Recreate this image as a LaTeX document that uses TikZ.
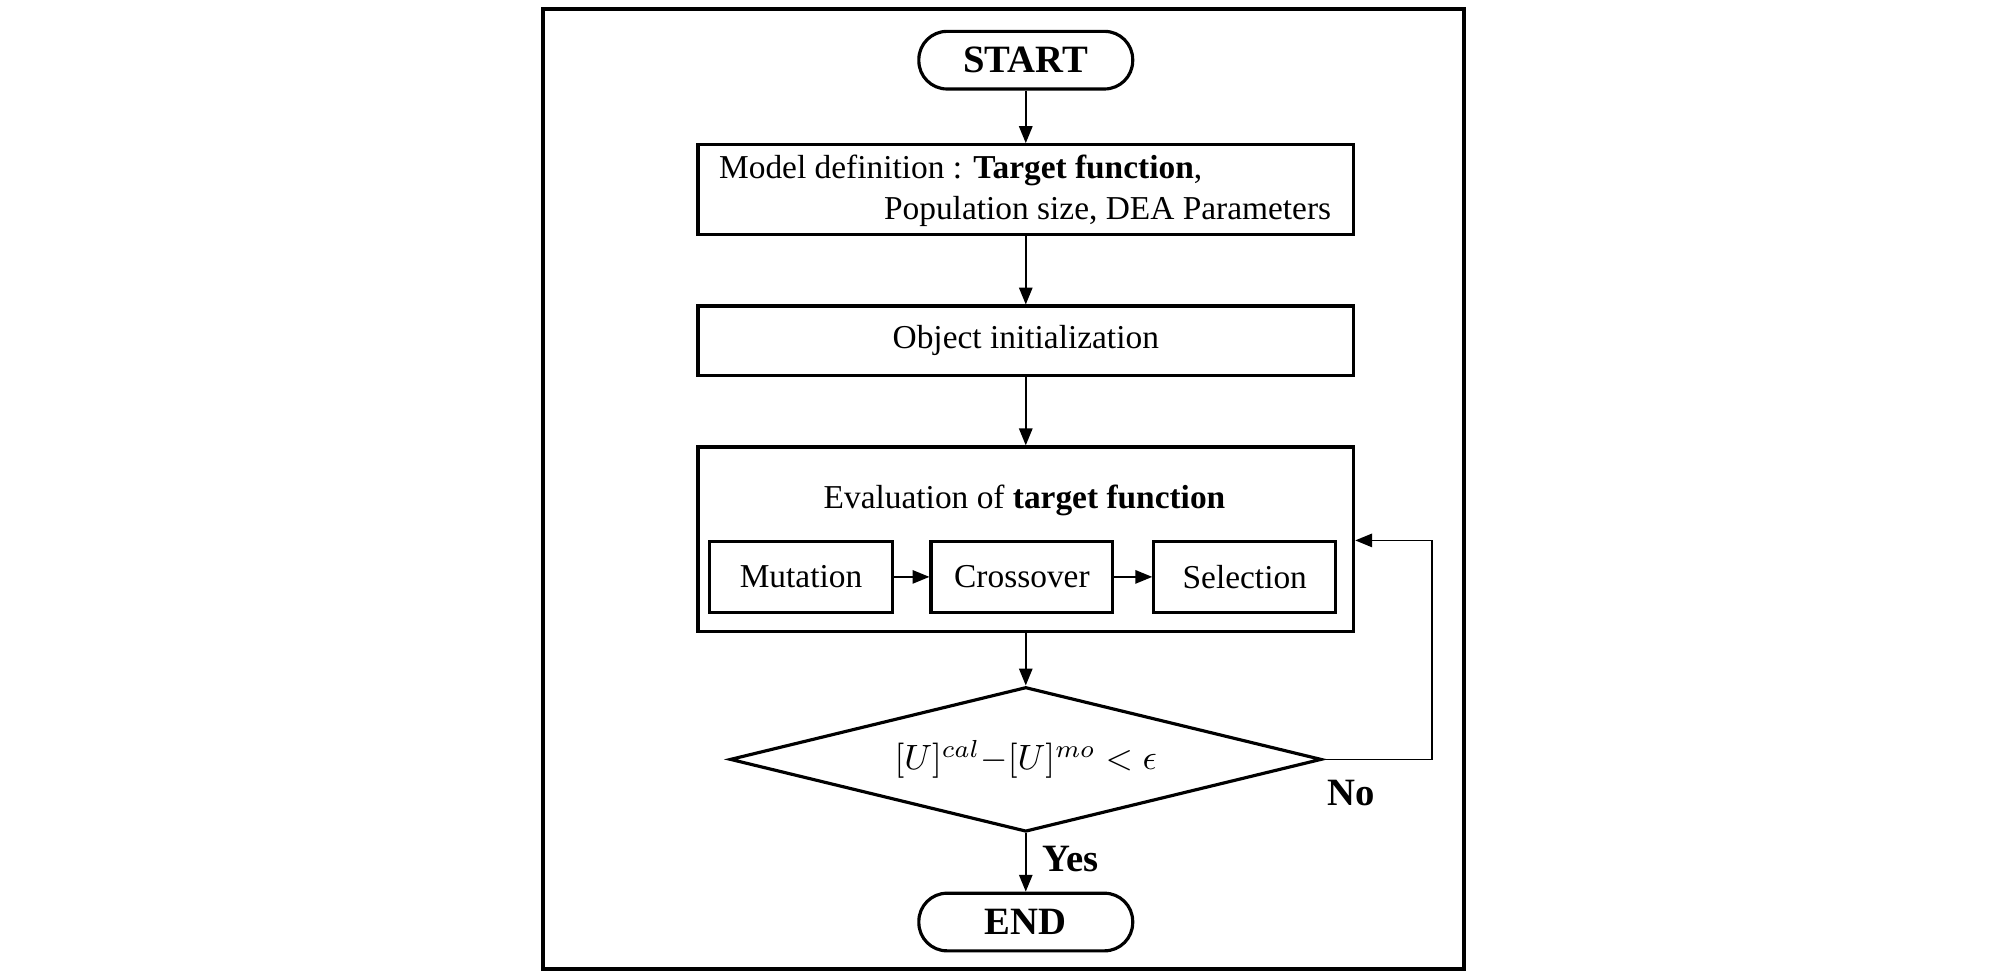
\documentclass[tikz,border=0pt]{standalone}
\usepackage{fontspec}
\setmainfont{Liberation Serif}
\usetikzlibrary{shapes.geometric,arrows.meta}
\newcommand\pxu[1]{#1*0.012806cm}
\begin{document}
\begin{tikzpicture}[x=0.012806cm,y=-0.012806cm,
  txt/.style={font=\fontsize{9.5}{11.6}\selectfont},
  box/.style={draw,line width=0.9pt,inner sep=0pt,txt},
  term/.style={draw,line width=0.9pt,inner sep=0pt,rounded corners=\pxu{22},
     minimum width=\pxu{167},minimum height=\pxu{45},font=\fontsize{11}{13}\selectfont\bfseries},
  arr/.style={line width=0.5pt,-{Triangle[length=4.8pt,width=3.8pt]}},
  lbl/.style={font=\fontsize{11}{13}\selectfont\bfseries,inner sep=0pt}]
\useasboundingbox (0,0) rectangle (1568,765);
\draw[line width=1.1pt] (424,7) rectangle (1143,757);
\node[term] (start) at (801,47) {START};
\node[box,minimum width=\pxu{512},minimum height=\pxu{70}] (model) at (801,148) {};
\node[txt,anchor=west,inner sep=0pt] (m1) at (561,133) {Model definition : \textbf{Target function},};
\node[txt,anchor=east,inner sep=0pt] (m2) at (1040,165) {Population size, DEA Parameters};
\node[box,minimum width=\pxu{512},minimum height=\pxu{54}] (init) at (801,266) {Object initialization};
\node[box,minimum width=\pxu{512},minimum height=\pxu{144}] (eval) at (801,421) {};
\node[txt,inner sep=0pt] (evt) at (800,391) {Evaluation of \textbf{target function}};
\node[box,minimum width=\pxu{143},minimum height=\pxu{55}] (mut) at (625.5,450.5) {Mutation};
\node[box,minimum width=\pxu{142},minimum height=\pxu{55}] (cro) at (798,450.5) {Crossover};
\node[box,minimum width=\pxu{142},minimum height=\pxu{55}] (sel) at (972,450.5) {Selection};
\node[diamond,draw,line width=0.9pt,inner sep=0pt,minimum width=\pxu{462},minimum height=\pxu{113},font=\fontsize{10}{12}\selectfont,aspect=4] (dia) at (801,593) {$[U]^{cal}{-}[U]^{mo} < \epsilon$};
\node[term] (end) at (801,720) {END};
\coordinate (fb1) at (1118,593);
\coordinate (fb2) at (1118,422);
\draw[arr] (start) -- (model);
\draw[arr] (model) -- (init);
\draw[arr] (init) -- (eval);
\draw[arr] (mut) -- (cro);
\draw[arr] (cro) -- (sel);
\draw[arr] (eval) -- (dia);
\draw[arr] (dia) -- (end);
\draw[arr] (dia.east) -- (fb1) -- (fb2) -- (fb2 -| eval.east);
\node[lbl] (no) at (1055,619) {No};
\node[lbl] (yes) at (836,671) {Yes};
\end{tikzpicture}
\end{document}
